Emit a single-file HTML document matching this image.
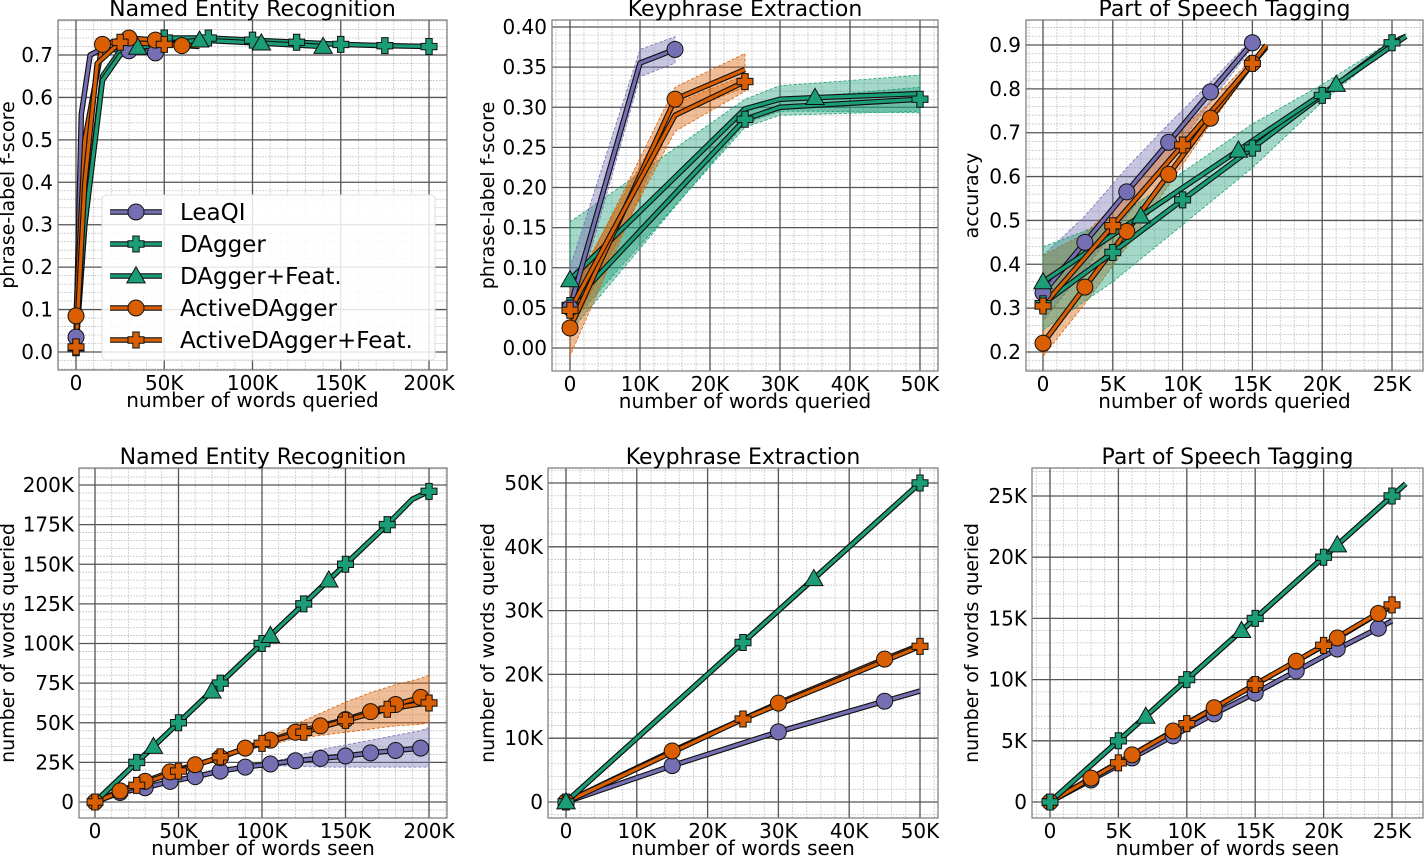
<!DOCTYPE html>
<html><head><meta charset="utf-8">
<style>
body{margin:0;background:#fff}
svg text{font-family:"DejaVu Sans","Liberation Sans",sans-serif;fill:#000}
</style></head>
<body>
<svg id="fig" width="1428" height="856" viewBox="0 0 1428 856" xmlns="http://www.w3.org/2000/svg">
<rect width="1428" height="856" fill="#fff"/>
</svg>
<script>
// ===== Data (x in thousands of words) =====
const nerQ_leaqi = [[0,0.035],[3,0.56],[8,0.70],[15,0.715],[30,0.71],[45,0.705]];
const nerQ_leaqi_mk = [0,4,5];
const nerQ_dagger = [[0,0.01],[5,0.3],[15,0.65],[25,0.71],[50,0.74],[75,0.74],[100,0.735],[125,0.73],[150,0.725],[175,0.722],[200,0.72]];
const nerQ_dagger_mk = [0,4,5,6,7,8,9,10];
const nerQ_daggerF = [[0,0.03],[5,0.3],[15,0.64],[25,0.70],[35,0.718],[70,0.735],[105,0.728],[140,0.72]];
const nerQ_daggerF_mk = [4,5,6,7];
const nerQ_active = [[0,0.085],[5,0.5],[15,0.725],[30,0.74],[45,0.735],[60,0.722]];
const nerQ_active_mk = [0,2,3,4,5];
const nerQ_activeF = [[0,0.012],[5,0.4],[12,0.68],[25,0.73],[50,0.725],[70,0.72]];
const nerQ_activeF_mk = [0,3,4];

const kpQ_leaqi = [[0,0.05],[10,0.355],[15,0.372]];
const kpQ_leaqi_lo = [0.03,0.338,0.355];
const kpQ_leaqi_hi = [0.10,0.372,0.388];
const kpQ_leaqi_mk = [0,2];
const kpQ_dagger = [[0,0.053],[25,0.285],[30,0.30],[50,0.31]];
const kpQ_dagger_lo = [0.03,0.275,0.29,0.295];
const kpQ_dagger_hi = [0.09,0.295,0.31,0.325];
const kpQ_dagger_mk = [0,1,3];
const kpQ_daggerF = [[0,0.085],[25,0.298],[30,0.31],[35,0.312],[50,0.317]];
const kpQ_daggerF_lo = [0.02,0.28,0.295,0.295,0.293];
const kpQ_daggerF_hi = [0.157,0.31,0.327,0.33,0.34];
const kpQ_daggerF_mk = [0,3];
const kpQ_active = [[0,0.025],[15,0.31],[25,0.347]];
const kpQ_active_lo = [-0.01,0.29,0.325];
const kpQ_active_hi = [0.06,0.325,0.367];
const kpQ_active_mk = [0,1];
const kpQ_activeF = [[0,0.047],[15,0.29],[25,0.332]];
const kpQ_activeF_lo = [0.02,0.27,0.32];
const kpQ_activeF_hi = [0.07,0.305,0.34];
const kpQ_activeF_mk = [0,2];

const posQ_leaqi = [[0,0.335],[3,0.45],[6,0.565],[9,0.678],[12,0.793],[15,0.905]];
const posQ_leaqi_lo = [0.27,0.39,0.51,0.64,0.77,0.895];
const posQ_leaqi_hi = [0.42,0.51,0.62,0.72,0.815,0.915];
const posQ_leaqi_mk = [0,1,2,3,4,5];
const posQ_dagger = [[0,0.31],[5,0.427],[10,0.547],[15,0.665],[20,0.785],[25,0.905],[26,0.92]];
const posQ_dagger_lo = [0.25,0.36,0.49,0.62,0.77,0.9,0.915];
const posQ_dagger_hi = [0.44,0.50,0.61,0.72,0.81,0.91,0.925];
const posQ_dagger_mk = [0,1,2,3,4,5];
const posQ_daggerF = [[0,0.36],[7,0.51],[14,0.66],[21,0.81],[26,0.92]];
const posQ_daggerF_mk = [0,1,2,3];
const posQ_active = [[0,0.22],[3,0.348],[6,0.475],[9,0.605],[12,0.733],[15,0.858],[16,0.895]];
const posQ_active_lo = [0.19,0.31,0.44,0.58,0.72,0.85,0.89];
const posQ_active_hi = [0.42,0.47,0.56,0.68,0.77,0.87,0.90];
const posQ_active_mk = [0,1,2,3,4,5];
const posQ_activeF = [[0,0.305],[5,0.488],[10,0.672],[15,0.858],[16,0.9]];
const posQ_activeF_mk = [0,1,2,3];

const nerS_leaqi = [[0,0],[15,6],[30,9],[45,13],[60,16],[75,19.5],[90,22],[105,24],[120,26],[135,27.5],[150,29],[165,31],[180,32.5],[195,34],[200,34.5]];
const nerS_leaqi_lo = [0,6,9,13,16,19.5,22,23,22.5,22,22,22,22,22,22];
const nerS_leaqi_hi = [0,6,9,13,16,19.5,22,25,29,33,36,39,42,45,47];
const nerS_leaqi_mk = [0,1,2,3,4,5,6,7,8,9,10,11,12,13];
const nerS_dagger = [[0,0],[25,25],[50,50],[75,75],[100,100],[125,125],[150,150],[175,175],[190,191],[200,196]];
const nerS_dagger_mk = [1,2,3,4,5,6,7,9];
const nerS_daggerF = [[0,0],[35,35],[70,70],[105,105],[140,140],[175,175]];
const nerS_daggerF_mk = [1,2,3,4];
const nerS_active = [[0,0],[15,7],[30,13],[45,19],[60,23.5],[75,28],[90,34],[105,39],[120,44],[135,48],[150,52],[165,57],[180,61.5],[195,66],[200,65]];
const nerS_active_lo = [0,7,13,19,23.5,28,34,36,40,42,44,46,48,49,50];
const nerS_active_hi = [0,7,13,19,23.5,28,34,41,49,56,63,69,74,78,80];
const nerS_active_mk = [0,1,2,3,4,5,6,7,8,9,10,11,12,13];
const nerS_activeF = [[0,0],[25,10.5],[50,19.5],[75,28.5],[100,37],[125,44],[150,51.5],[175,58.5],[195,62],[200,62.5]];
const nerS_activeF_mk = [0,1,2,3,4,5,6,7,9];

const kpS_leaqi = [[0,0],[15,5.7],[30,11],[45,15.8],[50,17.4]];
const kpS_leaqi_mk = [0,1,2,3];
const kpS_dagger = [[0,0],[25,25],[50,50]];
const kpS_dagger_mk = [0,1,2];
const kpS_daggerF = [[0,0],[35,35],[50,50]];
const kpS_daggerF_mk = [0,1];
const kpS_active = [[0,0],[15,8],[30,15.5],[45,22.4],[50,24.6]];
const kpS_active_mk = [0,1,2,3];
const kpS_activeF = [[0,0],[25,13],[50,24.4]];
const kpS_activeF_mk = [0,1,2];

const posS_leaqi = [[0,0],[3,1.8],[6,3.6],[9,5.4],[12,7.2],[15,8.9],[18,10.7],[21,12.5],[24,14.2],[25,14.8]];
const posS_leaqi_mk = [0,1,2,3,4,5,6,7,8];
const posS_dagger = [[0,0],[5,5],[10,10],[15,15],[20,20],[25,25],[26,26]];
const posS_dagger_mk = [0,1,2,3,4,5];
const posS_daggerF = [[0,0],[7,7],[14,14],[21,21],[26,26]];
const posS_daggerF_mk = [1,2,3];
const posS_active = [[0,0],[3,1.95],[6,3.85],[9,5.8],[12,7.7],[15,9.6],[18,11.5],[21,13.4],[24,15.4],[25,16]];
const posS_active_mk = [0,1,2,3,4,5,6,7,8];
const posS_activeF = [[0,0],[5,3.2],[10,6.4],[15,9.6],[20,12.8],[25,16.1]];
const posS_activeF_mk = [0,1,2,3,4,5];

const ticksX_ner = [0,50,100,150,200];
const ticksX_kp = [0,10,20,30,40,50];
const ticksX_pos = [0,5,10,15,20,25];
const ticksY_nerQ = [0,0.1,0.2,0.3,0.4,0.5,0.6,0.7];
const ticksY_kpQ = [0,0.05,0.1,0.15,0.2,0.25,0.3,0.35,0.4];
const ticksY_posQ = [0.2,0.3,0.4,0.5,0.6,0.7,0.8,0.9];
const ticksY_nerS = [0,25,50,75,100,125,150,175,200];
const ticksY_kpS = [0,10,20,30,40,50];
const ticksY_posS = [0,5,10,15,20,25];

const C = {purple:'#7570b3', green:'#1b9e77', orange:'#d95f02'};
const NS = 'http://www.w3.org/2000/svg';
const fig = document.getElementById('fig');
function mk(tag, attrs, parent){
  const e = document.createElementNS(NS, tag);
  for (const k in attrs) e.setAttribute(k, attrs[k]);
  (parent||fig).appendChild(e);
  return e;
}
function fmtK(v){ return v===0 ? '0' : (Math.round(v)+'K'); }

function panel(cfg){
  const g = mk('g', {});
  
  
  const [fx0,fy0,fx1,fy1] = cfg.frame;
  const sx = v => cfg.xc[1] + (v-cfg.xc[0])*(cfg.xc[3]-cfg.xc[1])/(cfg.xc[2]-cfg.xc[0]);
  const sy = v => cfg.yc[1] + (v-cfg.yc[0])*(cfg.yc[3]-cfg.yc[1])/(cfg.yc[2]-cfg.yc[0]);
  const inv = (c,p) => c[0] + (p-c[1])*(c[2]-c[0])/(c[3]-c[1]);
  const clipId = 'clip_'+cfg.name;
  const defs = mk('defs', {}, g);
  const cp = mk('clipPath', {id:clipId}, defs);
  mk('rect', {x:fx0, y:fy0, width:fx1-fx0, height:fy1-fy0}, cp);
  const grid = mk('g', {'clip-path':'url(#'+clipId+')'}, g);
  
  
  const xmin = inv(cfg.xc, fx0), xmax = inv(cfg.xc, fx1);
  const ymin = Math.min(inv(cfg.yc, fy0), inv(cfg.yc, fy1)), ymax = Math.max(inv(cfg.yc, fy0), inv(cfg.yc, fy1));
  for (let v = Math.ceil(xmin/cfg.mx)*cfg.mx; v <= xmax; v += cfg.mx)
    mk('line', {x1:sx(v), x2:sx(v), y1:fy0, y2:fy1, stroke:'#c8c8c8', 'stroke-width':0.8, 'stroke-dasharray':'2,1'}, grid);
  for (let v = Math.ceil(ymin/cfg.my)*cfg.my; v <= ymax; v += cfg.my)
    mk('line', {x1:fx0, x2:fx1, y1:sy(v), y2:sy(v), stroke:'#c8c8c8', 'stroke-width':0.8, 'stroke-dasharray':'2,1'}, grid);
  cfg.tx.forEach(v => mk('line', {x1:sx(v), x2:sx(v), y1:fy0, y2:fy1, stroke:'#555', 'stroke-width':1.3}, grid));
  cfg.ty.forEach(v => mk('line', {x1:fx0, x2:fx1, y1:sy(v), y2:sy(v), stroke:'#555', 'stroke-width':1.3}, grid));
  const fr = mk('rect', {x:fx0, y:fy0, width:fx1-fx0, height:fy1-fy0, fill:'none', stroke:'#777', 'stroke-width':1.2}, g);
  
  
  cfg.tx.forEach(v => {
    const t = mk('text', {x:sx(v), y:fy1+20, 'font-size':20, 'text-anchor':'middle'}, g);
    t.textContent = cfg.fx(v);
    
    
  });
  cfg.ty.forEach(v => {
    const t = mk('text', {x:fx0-5, y:sy(v)+7, 'font-size':20, 'text-anchor':'end'}, g);
    t.textContent = cfg.fy(v);
    
    
  });
  const ti = mk('text', {x:(fx0+fx1)/2, y:fy0-4, 'font-size':22, 'text-anchor':'middle'}, g);
  ti.textContent = cfg.title;
  
  
  const xl = mk('text', {x:(fx0+fx1)/2, y:fy1+37, 'font-size':20, 'text-anchor':'middle'}, g);
  xl.textContent = cfg.xlabel;
  
  
  const yx = cfg.ylx, yy = (fy0+fy1)/2;
  const yl = mk('text', {x:yx, y:yy, 'font-size':19, 'text-anchor':'middle', transform:'rotate(-90 '+yx+' '+yy+')'}, g);
  yl.textContent = cfg.ylabel;
  
  
  const plot = mk('g', {'clip-path':'url(#'+clipId+')'}, g);
  cfg.series.forEach(s => {
    if (s.lo) {
      const up = s.pts.map((p,i) => sx(p[0])+','+sy(s.hi[i]));
      const dn = s.pts.map((p,i) => sx(p[0])+','+sy(s.lo[i])).reverse();
      const b = mk('polygon', {points:up.concat(dn).join(' '), fill:s.color, 'fill-opacity':0.4, stroke:s.color, 'stroke-width':0.8, 'stroke-dasharray':'3,2'}, plot);
      
      
    }
  });
  cfg.series.forEach(s => {
    const d = s.pts.map(p => sx(p[0])+','+sy(p[1])).join(' ');
    mk('polyline', {points:d, fill:'none', stroke:'#111', 'stroke-width':5.5, 'stroke-linejoin':'round'}, plot);
    const ln = mk('polyline', {points:d, fill:'none', stroke:s.color, 'stroke-width':3.2, 'stroke-linejoin':'round'}, plot);
    
    
  });
  const mg = mk('g', {}, g);
  cfg.series.forEach(s => {
    s.mk.forEach(i => {
      const p = s.pts[i];
      const m = marker(mg, s.shape, sx(p[0]), sy(p[1]), s.color);
      
      
    });
  });
}
function marker(parent, shape, x, y, color, r){
  r = r || 8;
  if (shape === 'o') return mk('circle', {cx:x, cy:y, r:r, fill:color, stroke:'#111', 'stroke-width':1}, parent);
  if (shape === '^') {
    const h = r*1.15;
    return mk('polygon', {points:[x+','+(y-h), (x+h)+','+(y+h*0.75), (x-h)+','+(y+h*0.75)].join(' '), fill:color, stroke:'#111', 'stroke-width':1}, parent);
  }
  const a = r, b = r*0.4;
  const pts = [[-b,-a],[b,-a],[b,-b],[a,-b],[a,b],[b,b],[b,a],[-b,a],[-b,b],[-a,b],[-a,-b],[-b,-b]];
  return mk('polygon', {points:pts.map(q => (x+q[0])+','+(y+q[1])).join(' '), fill:color, stroke:'#111', 'stroke-width':1}, parent);
}
function S(label, shape, color, pts, mkIdx, lo, hi){ return {label, shape, color, pts, mk:mkIdx, lo, hi}; }
const f1 = v => v.toFixed(1), f2 = v => v.toFixed(2);

panel({name:'ner-queried-panel', frame:[58,20,447,370], xc:[0,76,200,429], yc:[0,352,0.7,55], mx:10, my:0.02,
  tx:ticksX_ner, ty:ticksY_nerQ, fx:fmtK, fy:f1, title:'Named Entity Recognition', xlabel:'number of words queried', ylabel:'phrase-label f-score', ylx:14,
  series:[S('leaqi','o',C.purple,nerQ_leaqi,nerQ_leaqi_mk), S('dagger','P',C.green,nerQ_dagger,nerQ_dagger_mk),
    S('dagger-feat','^',C.green,nerQ_daggerF,nerQ_daggerF_mk), S('activedagger','o',C.orange,nerQ_active,nerQ_active_mk),
    S('activedagger-feat','P',C.orange,nerQ_activeF,nerQ_activeF_mk)]});
panel({name:'kp-queried-panel', frame:[552,20,938,371], xc:[0,570,50,920], yc:[0,348,0.4,27], mx:2, my:0.01,
  tx:ticksX_kp, ty:ticksY_kpQ, fx:fmtK, fy:f2, title:'Keyphrase Extraction', xlabel:'number of words queried', ylabel:'phrase-label f-score', ylx:494,
  series:[S('dagger-feat','^',C.green,kpQ_daggerF,kpQ_daggerF_mk,kpQ_daggerF_lo,kpQ_daggerF_hi), S('dagger','P',C.green,kpQ_dagger,kpQ_dagger_mk,kpQ_dagger_lo,kpQ_dagger_hi),
    S('leaqi','o',C.purple,kpQ_leaqi,kpQ_leaqi_mk,kpQ_leaqi_lo,kpQ_leaqi_hi), S('activedagger','o',C.orange,kpQ_active,kpQ_active_mk,kpQ_active_lo,kpQ_active_hi),
    S('activedagger-feat','P',C.orange,kpQ_activeF,kpQ_activeF_mk,kpQ_activeF_lo,kpQ_activeF_hi)]});
panel({name:'pos-queried-panel', frame:[1026,20,1423,371], xc:[0,1043,25,1392], yc:[0.2,352,0.9,45], mx:1, my:0.02,
  tx:ticksX_pos, ty:ticksY_posQ, fx:fmtK, fy:f1, title:'Part of Speech Tagging', xlabel:'number of words queried', ylabel:'accuracy', ylx:978,
  series:[S('leaqi','o',C.purple,posQ_leaqi,posQ_leaqi_mk,posQ_leaqi_lo,posQ_leaqi_hi), S('activedagger','o',C.orange,posQ_active,posQ_active_mk,posQ_active_lo,posQ_active_hi),
    S('dagger','P',C.green,posQ_dagger,posQ_dagger_mk,posQ_dagger_lo,posQ_dagger_hi), S('dagger-feat','^',C.green,posQ_daggerF,posQ_daggerF_mk),
    S('activedagger-feat','P',C.orange,posQ_activeF,posQ_activeF_mk)]});
panel({name:'ner-seen-panel', frame:[79,468,447,818], xc:[0,95,200,429], yc:[0,802,200,485], mx:10, my:5,
  tx:ticksX_ner, ty:ticksY_nerS, fx:fmtK, fy:fmtK, title:'Named Entity Recognition', xlabel:'number of words seen', ylabel:'number of words queried', ylx:14,
  series:[S('leaqi','o',C.purple,nerS_leaqi,nerS_leaqi_mk,nerS_leaqi_lo,nerS_leaqi_hi), S('activedagger','o',C.orange,nerS_active,nerS_active_mk,nerS_active_lo,nerS_active_hi),
    S('activedagger-feat','P',C.orange,nerS_activeF,nerS_activeF_mk), S('dagger','P',C.green,nerS_dagger,nerS_dagger_mk),
    S('dagger-feat','^',C.green,nerS_daggerF,nerS_daggerF_mk)]});
panel({name:'kp-seen-panel', frame:[548,468,938,818], xc:[0,566,50,920], yc:[0,802,50,483], mx:2, my:2,
  tx:ticksX_kp, ty:ticksY_kpS, fx:fmtK, fy:fmtK, title:'Keyphrase Extraction', xlabel:'number of words seen', ylabel:'number of words queried', ylx:494,
  series:[S('leaqi','o',C.purple,kpS_leaqi,kpS_leaqi_mk), S('activedagger','o',C.orange,kpS_active,kpS_active_mk),
    S('activedagger-feat','P',C.orange,kpS_activeF,kpS_activeF_mk), S('dagger','P',C.green,kpS_dagger,kpS_dagger_mk),
    S('dagger-feat','^',C.green,kpS_daggerF,kpS_daggerF_mk)]});
panel({name:'pos-seen-panel', frame:[1032,468,1423,818], xc:[0,1050,25,1392], yc:[0,802,25,496], mx:1, my:1,
  tx:ticksX_pos, ty:ticksY_posS, fx:fmtK, fy:fmtK, title:'Part of Speech Tagging', xlabel:'number of words seen', ylabel:'number of words queried', ylx:978,
  series:[S('leaqi','o',C.purple,posS_leaqi,posS_leaqi_mk), S('activedagger','o',C.orange,posS_active,posS_active_mk),
    S('activedagger-feat','P',C.orange,posS_activeF,posS_activeF_mk), S('dagger','P',C.green,posS_dagger,posS_dagger_mk),
    S('dagger-feat','^',C.green,posS_daggerF,posS_daggerF_mk)]});

const legendLabels = ['LeaQI','DAgger','DAgger+Feat.','ActiveDAgger','ActiveDAgger+Feat.'];
const legendShapes = ['o','P','^','o','P'];
const legendColors = [C.purple,C.green,C.green,C.orange,C.orange];
const lg = mk('g', {});


mk('rect', {x:102, y:195, width:333, height:165, rx:4, fill:'#fff', 'fill-opacity':0.85, stroke:'#ddd', 'stroke-width':1}, lg);
legendLabels.forEach((lab,i) => {
  const y = 212 + i*32;
  const e = mk('g', {}, lg);
  
  
  mk('line', {x1:110, x2:162, y1:y, y2:y, stroke:'#111', 'stroke-width':5.5}, e);
  mk('line', {x1:110, x2:162, y1:y, y2:y, stroke:legendColors[i], 'stroke-width':3.2}, e);
  marker(e, legendShapes[i], 136, y, legendColors[i], 8);
  const t = mk('text', {x:180, y:y+8, 'font-size':23}, e);
  t.textContent = lab;
});
</script>
</body></html>
